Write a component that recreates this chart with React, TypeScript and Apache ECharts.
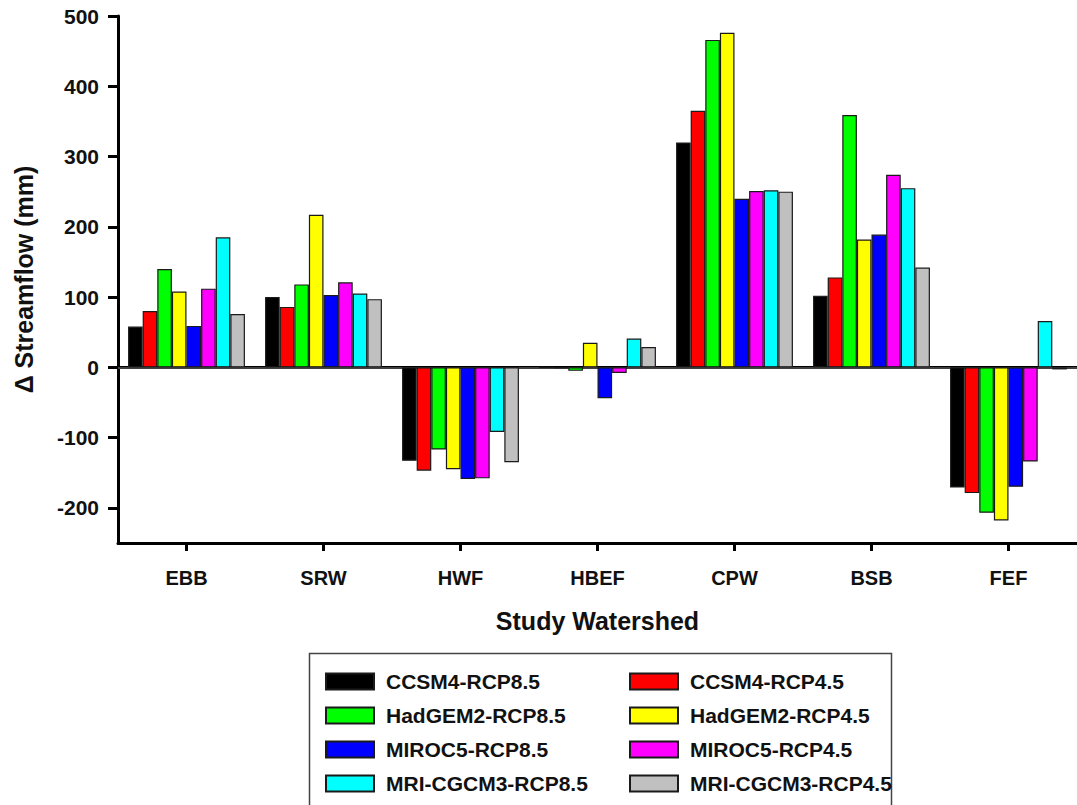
import React, { useEffect, useRef } from "react";
import * as echarts from "echarts";

const categories = ["EBB", "SRW", "HWF", "HBEF", "CPW", "BSB", "FEF"];
const seriesNames = [
  "CCSM4-RCP8.5",
  "CCSM4-RCP4.5",
  "HadGEM2-RCP8.5",
  "HadGEM2-RCP4.5",
  "MIROC5-RCP8.5",
  "MIROC5-RCP4.5",
  "MRI-CGCM3-RCP8.5",
  "MRI-CGCM3-RCP4.5",
];
const ccsm4Rcp85 = [58, 100, -133, 0, 320, 102, -171];
const ccsm4Rcp45 = [80, 86, -147, -1, 365, 128, -179];
const hadgem2Rcp85 = [140, 118, -117, -5, 466, 359, -207];
const hadgem2Rcp45 = [108, 217, -145, 35, 476, 182, -218];
const miroc5Rcp85 = [59, 103, -159, -44, 240, 189, -170];
const miroc5Rcp45 = [112, 121, -158, -8, 251, 274, -134];
const mriRcp85 = [185, 105, -92, 41, 252, 255, 66];
const mriRcp45 = [76, 97, -135, 29, 250, 142, -3];
const seriesValues = [
  ccsm4Rcp85,
  ccsm4Rcp45,
  hadgem2Rcp85,
  hadgem2Rcp45,
  miroc5Rcp85,
  miroc5Rcp45,
  mriRcp85,
  mriRcp45,
];
const colors = ["#000000", "#ff0000", "#00ff00", "#ffff00", "#0000ff", "#ff00ff", "#00ffff", "#c0c0c0"];
const yTicks = [-200, -100, 0, 100, 200, 300, 400, 500];

const FONT = "'Liberation Sans', Arial, sans-serif";

export default function App() {
  const ref = useRef<HTMLDivElement>(null);
  useEffect(() => {
    if (!ref.current) return;
    const chart = echarts.init(ref.current, null, { renderer: "svg" });
    const series: any[] = seriesNames.map((name, i) => ({
      name,
      type: "bar",
      data: seriesValues[i],
      barGap: "0%",
      barCategoryGap: "14.7%",
      itemStyle: { color: colors[i], borderColor: "#1a1a1a", borderWidth: 1.2 },
      z: 3,
    }));
    series[0].markLine = {
      silent: true,
      symbol: "none",
      label: { show: false },
      lineStyle: { color: "#555", width: 1.5, type: "solid" },
      data: [{ yAxis: 0 }],
      z: 2,
    };
    const legendCommon = {
      orient: "vertical",
      top: 671,
      padding: 0,
      itemWidth: 48,
      itemHeight: 16,
      itemGap: 13,
      icon: "rect",
      textStyle: {
        fontFamily: FONT,
        fontWeight: "bold",
        fontSize: 21,
        lineHeight: 20,
        color: "#111",
        padding: [0, 0, 0, 7],
      },
    };
    chart.setOption({
      animation: false,
      backgroundColor: "#ffffff",
      grid: { left: 118, top: 16, width: 964, height: 527 },
      legend: [
        { ...legendCommon, left: 325, data: [seriesNames[0], seriesNames[2], seriesNames[4], seriesNames[6]] },
        { ...legendCommon, left: 629, data: [seriesNames[1], seriesNames[3], seriesNames[5], seriesNames[7]] },
      ],
      xAxis: [
        {
          type: "category",
          data: categories,
          position: "bottom",
          name: "Study Watershed",
          nameLocation: "middle",
          nameGap: 65,
          nameTextStyle: { fontFamily: FONT, fontWeight: "bold", fontSize: 25, color: "#111" },
          axisLine: { onZero: false, lineStyle: { color: "#000", width: 3 } },
          axisTick: { show: true, alignWithLabel: true, length: 8, lineStyle: { width: 3, color: "#000" } },
          axisLabel: { margin: 25, fontFamily: FONT, fontWeight: "bold", fontSize: 20, color: "#111" },
          splitLine: { show: false },
        },
        {
          type: "category",
          data: categories,
          position: "top",
          axisLine: { lineStyle: { color: "#000", width: 3 } },
          axisTick: { show: false },
          axisLabel: { show: false },
          splitLine: { show: false },
        },
      ],
      yAxis: {
        type: "value",
        min: -250,
        max: 500,
        name: "\u0394 Streamflow (mm)",
        nameLocation: "middle",
        nameGap: 82,
        nameTextStyle: { fontFamily: FONT, fontWeight: "bold", fontSize: 25, color: "#111" },
        axisLine: { show: true, lineStyle: { color: "#000", width: 3 } },
        axisTick: { show: true, length: 10, customValues: yTicks, lineStyle: { width: 3, color: "#000" } },
        axisLabel: { margin: 19, customValues: yTicks, fontFamily: FONT, fontWeight: "bold", fontSize: 21, color: "#111" },
        splitLine: { show: false },
      },
      graphic: [
        {
          type: "rect",
          shape: { x: 309.5, y: 653.5, width: 582, height: 200 },
          style: { fill: "none", stroke: "#444", lineWidth: 1.5 },
          silent: true,
        },
      ],
      series,
    });
    return () => chart.dispose();
  }, []);
  return (
    <div
      ref={ref}
      style={{ position: "fixed", left: 0, top: 0, width: 1077, height: 805, background: "#fff" }}
    />
  );
}
